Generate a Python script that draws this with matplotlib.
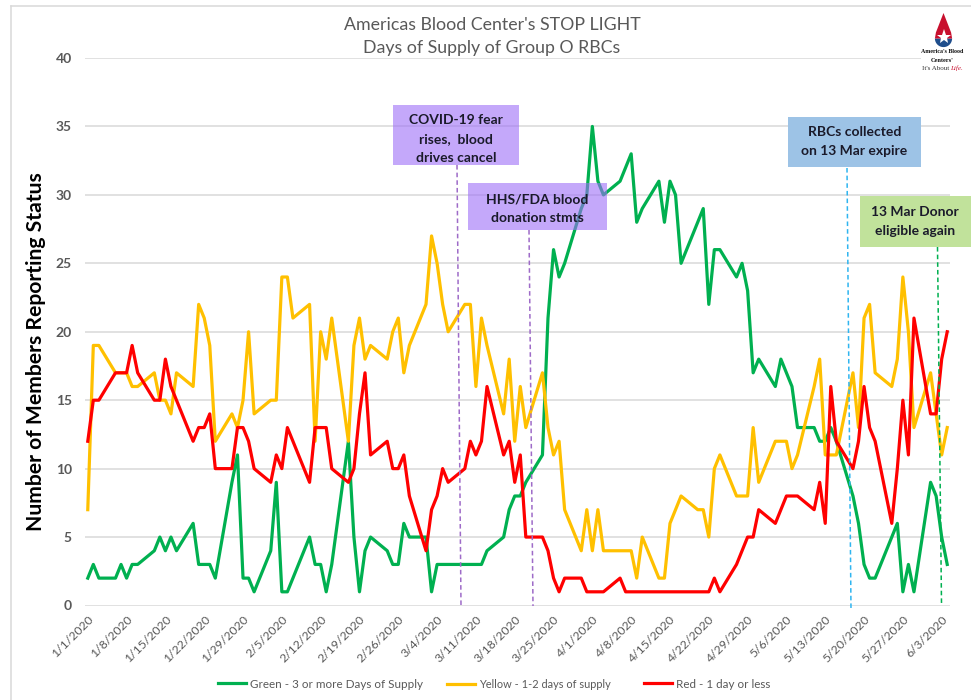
import matplotlib
matplotlib.use("Agg")
import matplotlib.pyplot as plt
import matplotlib.dates as mdates
import matplotlib.transforms as mtrans
import pandas as pd
import numpy as np
from matplotlib.lines import Line2D
from matplotlib.patches import Rectangle, Polygon

plt.rcParams['font.family'] = ['Lato', 'DejaVu Sans']

start_date = "2020-01-01"
end_date = "2020-06-04"
tick_last = "2020-06-03"
y_ticks = [0, 5, 10, 15, 20, 25, 30, 35, 40]

green = [2,3,2, 2,3,2,3,3, 4,5,4,5,4, 6,3,3,3,2, 9,11,2,2,1, 4,9,1,1,2, 5,3,3,1,3,
         12,5,1,4,5, 4,3,3,6,5, 5,1,3,3,3, 3,3,3,3,4, 5,7,8,8,9, 11,21,26,24,25,
         29,30,35,31,30, 31,32,33,28,29, 31,28,31,30,25, 28,29,22,26,26, 24,25,23,17,18,
         16,18,17,16,13, 13,12,12,13,12, 8,6,3,2,2, 5,6,1,3,1, 9,8,5,3]
yellow = [7,19,19, 17,17,17,16,16, 17,15,15,14,17, 16,22,21,19,12, 14,13,15,20,14, 15,15,24,24,21,
          22,12,20,18,21, 12,19,21,18,19, 18,20,21,17,19, 22,27,25,22,20, 22,22,16,21,19,
          14,18,12,16,13, 17,13,11,12,7, 4,7,4,7,4, 4,4,4,2,5, 2,2,6,7,8, 7,7,5,10,11,
          8,8,8,13,9, 12,12,12,10,11, 16,18,11,11,11, 17,13,21,22,17, 16,18,24,20,13, 17,14,11,13]
red = [12,15,15, 17,17,17,19,17, 15,15,18,16,15, 12,13,13,14,10, 10,13,13,12,10, 9,11,10,13,12,
       9,13,13,13,10, 9,10,14,17,11, 12,10,10,11,8, 4,7,8,10,9, 10,12,11,12,16, 11,12,9,11,5,
       5,4,2,1,2, 2,1,1,1,1, 2,1,1,1,1, 1,1,1,1,1, 1,1,1,2,1, 3,4,5,5,7, 6,7,8,8,8,
       7,9,6,16,12, 10,12,16,13,12, 6,10,15,11,21, 14,14,18,20]

series_names = ["Green - 3 or more Days of Supply", "Yellow - 1-2 days of supply", "Red - 1 day or less"]
series_colors = ["#00B050", "#FFC000", "#FF0000"]
y_label = "Number of Members Reporting Status"
title_lines = ["Americas Blood Center's STOP LIGHT", "Days of Supply of Group O RBCs"]

W, H = 971, 700
def fx(x): return x / W
def fy(y): return 1 - y / H

dates = pd.bdate_range(start_date, end_date)
fig = plt.figure(figsize=(W / 100, H / 100), dpi=100, facecolor="white")
ax = fig.add_axes([fx(85), fy(605.5), fx(950) - fx(85), fy(58) - fy(605.5)])

handles = []
for vals, col, name in zip([green, yellow, red], series_colors, series_names):
    h, = ax.plot(dates, vals, color=col, lw=2.3, label=name, solid_joinstyle="round", zorder=3)
    handles.append(h)

d0 = mdates.date2num(pd.Timestamp(start_date))
d1 = mdates.date2num(pd.Timestamp(end_date))
ax.set_xlim(d0 - 0.5, d1 + 0.5)
ax.set_ylim(0, 40)
ax.set_yticks(y_ticks)
ticks = pd.date_range(start_date, tick_last, freq="7D")
ax.set_xticks(ticks)
ax.set_xticklabels([f"{t.month}/{t.day}/{t.year}" for t in ticks], rotation=45, ha="right",
                   rotation_mode="anchor", fontsize=8.8, color="#595959")
shift = mtrans.ScaledTranslation(-2 / 100, 0, fig.dpi_scale_trans)
for lab in ax.get_xticklabels():
    lab.set_transform(lab.get_transform() + shift)
ax.tick_params(axis="x", length=0, pad=6)
ax.tick_params(axis="y", length=0, pad=9.5, labelsize=10, labelcolor="#595959")
for lab in ax.get_yticklabels():
    lab.set_fontweight("bold")
ax.grid(axis="y", color="#D9D9D9", lw=1.1, zorder=0)
ax.set_axisbelow(True)
for s in ax.spines.values():
    s.set_visible(False)

# outer frame
fig.add_artist(Line2D([fx(10.5), fx(10.5)], [fy(5.5), 0], color="#D9D9D9", lw=1.1))
fig.add_artist(Line2D([fx(10.5), 1], [fy(5.5), fy(5.5)], color="#D9D9D9", lw=1.1))

# title and axis label
fig.text(fx(492), fy(24.5), title_lines[0], ha="center", va="center", fontsize=12.8, color="#595959")
fig.text(fx(492), fy(48), title_lines[1], ha="center", va="center", fontsize=12.8, color="#595959")
fig.text(fx(36), fy(352), y_label, rotation=90, ha="center", va="center", fontsize=15.2,
         fontweight="bold", color="#000000")

# annotations: connector lines (top x, top y, bottom x, bottom y)
def conn(x0, y0, x1, y1, col):
    fig.add_artist(Line2D([fx(x0), fx(x1)], [fy(y0), fy(y1)], color=col, lw=1.1, ls=(0, (3, 2)), zorder=4))
conn(457, 165, 461, 606, "#9E6BC8")
conn(529, 230, 533, 606, "#9E6BC8")
conn(847, 168, 851, 610, "#2FB5F0")
conn(937.5, 247, 941.5, 603, "#00B050")

def box(x0, y0, x1, y1, col, lines, ys):
    fig.add_artist(Rectangle((fx(x0), fy(y1)), fx(x1) - fx(x0), fy(y0) - fy(y1),
                             transform=fig.transFigure, facecolor=col, edgecolor="none", zorder=5))
    for t, y in zip(lines, ys):
        fig.text(fx((x0 + x1) / 2), fy(y), t, ha="center", va="center", fontsize=10,
                 fontweight="bold", color="#1A1A2A", zorder=6)

box(392.5, 105, 519, 165, (157/255, 110/255, 247/255, 0.6), ["COVID-19 fear", "rises,  blood", "drives cancel"], [120, 139, 158])
box(468, 183, 607, 230, (157/255, 110/255, 247/255, 0.6), ["HHS/FDA blood", "donation stmts"], [199, 218])
box(788, 117, 921, 167, "#9DC3E6", ["RBCs collected", "on 13 Mar expire"], [132, 151])
box(859.5, 196, 971, 247, "#C1E29B", ["13 Mar Donor", "eligible again"], [212, 231])

# logo
fig.add_artist(Rectangle((fx(921), fy(76)), fx(971) - fx(921), fy(7) - fy(76),
                         transform=fig.transFigure, facecolor="white", edgecolor="none", zorder=5))
cx, cy, rr = 943.5, 38.5, 8.6
ang = np.linspace(0, np.pi, 30)
lower = [(cx + rr * np.cos(a), cy + rr * np.sin(a)) for a in ang]
upper = [(cx - rr, cy), (cx - rr + 1, cy - 6), (cx, 13), (cx + rr - 1, cy - 6), (cx + rr, cy)]
fig.add_artist(Polygon([(fx(x), fy(y)) for x, y in lower], closed=True, transform=fig.transFigure,
                       facecolor="#1F4E8C", edgecolor="none", zorder=6))
fig.add_artist(Polygon([(fx(x), fy(y)) for x, y in upper], closed=True, transform=fig.transFigure,
                       facecolor="#C8102E", edgecolor="none", zorder=6))
fig.add_artist(Line2D([fx(cx)], [fy(37)], marker="*", ms=11, color="white", mec="white", mew=0, ls="none", zorder=7))
fig.text(fx(942.5), fy(51.5), "America's Blood", ha="center", va="center", fontsize=4.3, fontweight="bold",
         family="Liberation Serif", color="#111111", zorder=7)
fig.text(fx(942.5), fy(60), "Centers'", ha="center", va="center", fontsize=4.6, fontweight="bold",
         family="Liberation Serif", color="#111111", zorder=7)
fig.text(fx(936), fy(68.5), "It's About", ha="center", va="center", fontsize=5,
         family="Liberation Serif", color="#333333", zorder=7)
fig.text(fx(956), fy(68.5), "Life.", ha="center", va="center", fontsize=5, style="italic",
         family="Liberation Serif", color="#C8102E", zorder=7)

# legend: one entry per series, each placed where it sits in the reference
for h, name, left, fsize in zip(handles, series_names, [218, 447, 644], [8.4, 7.9, 8.4]):
    leg = fig.legend([h], [name], loc="center left", bbox_to_anchor=(fx(left), fy(684)), frameon=False,
                     fontsize=fsize, labelcolor="#595959", handlelength=28 / (fsize * 100 / 72),
                     handletextpad=0.35, borderpad=0, borderaxespad=0)

fig.savefig("out.png", dpi=100, facecolor="white")
